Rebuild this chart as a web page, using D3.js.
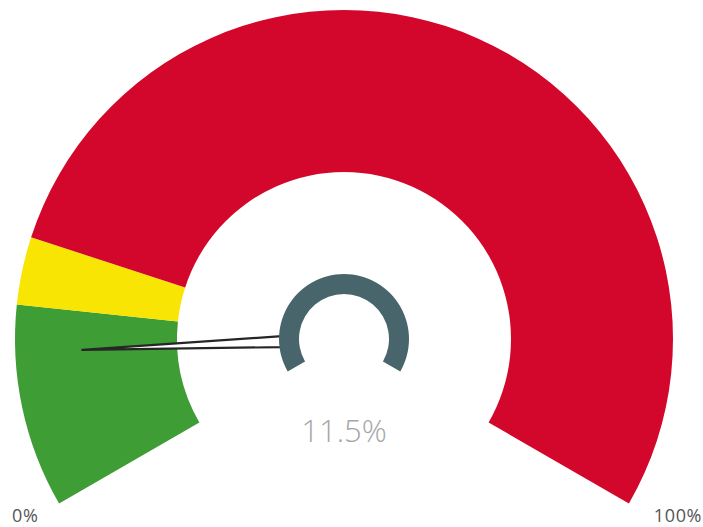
<!DOCTYPE html>
<html>
<head>
<meta charset="utf-8">
<script src="https://cdn.jsdelivr.net/npm/d3@7"></script>
<style>
  body { margin: 0; background: #fff; }
  svg { display: block; }
</style>
</head>
<body>
<svg id="chart" width="703" height="527"></svg>
<script>
// gauge bands (percent)
const bandStarts = [0, 15, 20];
const bandEnds = [15, 20, 100];
const bandColors = ["#3e9d35", "#f8e503", "#d2072b"];
const gaugeValue = 11.5;
const minLabel = "0%";
const maxLabel = "100%";

const svg = d3.select("#chart");
const cx = 344, cy = 339;

// 240 degree sweep, gap at the bottom
const angle = d3.scaleLinear().domain([0, 100]).range([-2 * Math.PI / 3, 2 * Math.PI / 3]);

const g = svg.append("g").attr("transform", `translate(${cx},${cy})`);

const bandArc = d3.arc().innerRadius(167).outerRadius(329);

g.selectAll("path.band")
  .data(bandStarts.map((s, i) => ({ s: s, e: bandEnds[i], c: bandColors[i] })))
  .join("path")
  .attr("class", "band")
  .attr("d", d => bandArc({ startAngle: angle(d.s), endAngle: angle(d.e) }))
  .attr("fill", d => d.c);

// needle - thin triangle from the hub ring to the value
const a = angle(gaugeValue);
const ux = Math.sin(a), uy = -Math.cos(a);   // direction
const px = -uy, py = ux;                       // perpendicular
const tipR = 262, baseR = 62, halfW = 5.5;
const needlePts = [
  [ux * tipR, uy * tipR],
  [ux * baseR + px * halfW, uy * baseR + py * halfW],
  [ux * baseR - px * halfW, uy * baseR - py * halfW]
];
g.append("path")
  .attr("d", d3.line()(needlePts) + "Z")
  .attr("fill", "#fff")
  .attr("stroke", "#262626")
  .attr("stroke-width", 2.2)
  .attr("stroke-linejoin", "round");

// hub ring
const hubArc = d3.arc().innerRadius(45).outerRadius(65);
g.append("path")
  .attr("d", hubArc({ startAngle: angle(0), endAngle: angle(100) }))
  .attr("fill", "#48656c");

// value text
g.append("text")
  .attr("x", 0)
  .attr("y", 103)
  .attr("text-anchor", "middle")
  .attr("font-family", "'Open Sans', sans-serif")
  .attr("font-weight", 300)
  .attr("font-size", 31)
  .attr("fill", "#a6a6a6")
  .text(gaugeValue.toFixed(1) + "%");

// min / max labels
svg.append("text")
  .attr("x", 12)
  .attr("y", 522)
  .attr("font-family", "'Open Sans', sans-serif")
  .attr("font-size", 18)
  .attr("letter-spacing", 0.6)
  .attr("fill", "#555")
  .text(minLabel);

svg.append("text")
  .attr("x", 702)
  .attr("y", 522)
  .attr("text-anchor", "end")
  .attr("font-family", "'Open Sans', sans-serif")
  .attr("font-size", 18)
  .attr("letter-spacing", 0.6)
  .attr("fill", "#555")
  .text(maxLabel);
</script>
</body>
</html>
